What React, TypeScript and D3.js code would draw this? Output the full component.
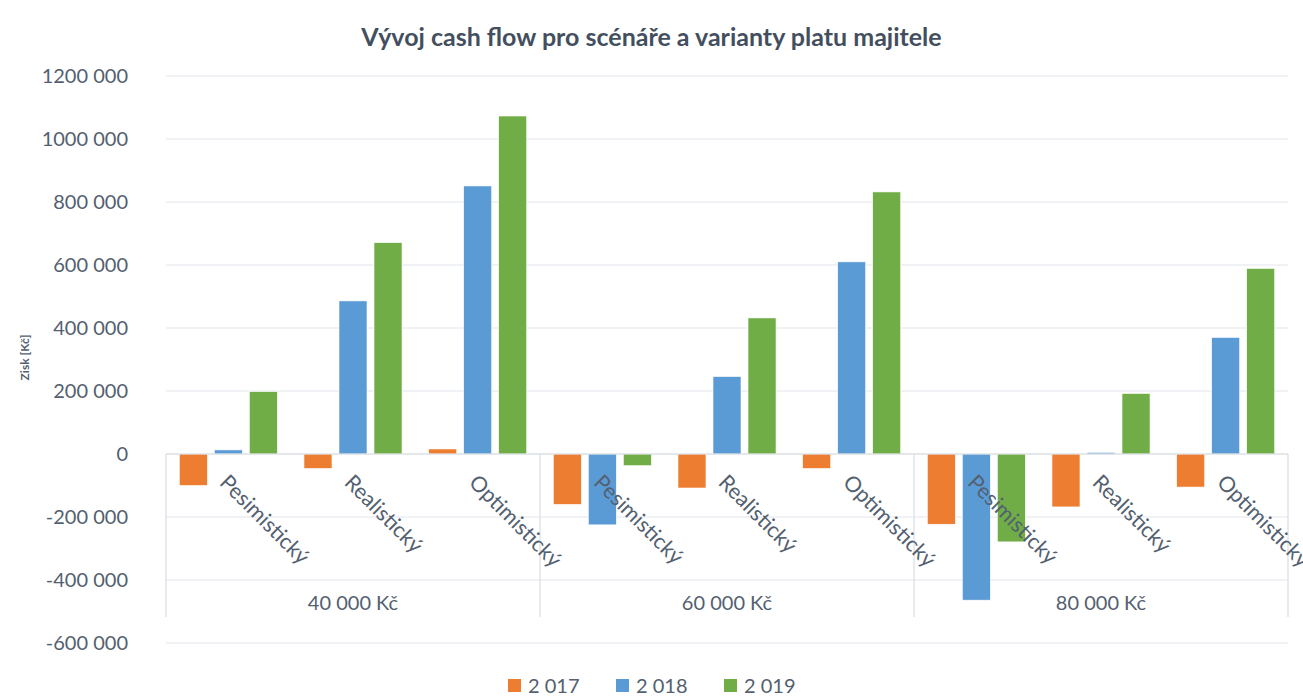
import React, { useEffect, useRef } from "react";
import * as d3 from "d3";

// Data
const salaries = ["40 000 Kč", "60 000 Kč", "80 000 Kč"];
const scenarios = ["Pesimistický", "Realistický", "Optimistický"];
const years = ["2 017", "2 018", "2 019"];

// one value per salary x scenario (9 categories, in order)
const values2017 = [-100000, -46000, 16000, -160000, -108000, -46000, -223000, -168000, -105000];
const values2018 = [13000, 486000, 851000, -225000, 246000, 610000, -464000, 5000, 370000];
const values2019 = [198000, 671000, 1073000, -37000, 432000, 832000, -279000, 192000, 589000];

const yTicks = [1200000, 1000000, 800000, 600000, 400000, 200000, 0, -200000, -400000, -600000];
const yTickLabels = ["1200 000", "1000 000", "800 000", "600 000", "400 000", "200 000", "0", "-200 000", "-400 000", "-600 000"];

const colors = ["#ED7D31", "#5B9BD5", "#70AD47"];
const textColor = "#536070";
const gridColor = "#E2E6EB";
const font = "Lato, 'Open Sans', sans-serif";

const App = () => {
  const svgRef = useRef<SVGSVGElement>(null);

  useEffect(() => {
    const svg = d3.select(svgRef.current);
    svg.selectAll("*").remove();

    const width = 1303;
    const left = 166;
    const right = 1288;
    const top = 76;
    const bottom = 643;

    const series = [values2017, values2018, values2019];
    const categories = d3.range(salaries.length * scenarios.length);

    const x = d3.scaleBand<number>().domain(categories).range([left, right]).padding(0);
    const xInner = d3
      .scaleBand<string>()
      .domain(years)
      .range([0, x.bandwidth()])
      .paddingInner(0.2)
      .paddingOuter(0.38);
    const y = d3.scaleLinear().domain([-600000, 1200000]).range([bottom, top]);

    // Title
    svg
      .append("text")
      .attr("x", width / 2)
      .attr("y", 46)
      .attr("text-anchor", "middle")
      .attr("font-family", font)
      .attr("font-weight", "bold")
      .attr("font-size", 25)
      .attr("fill", "#434F5E")
      .text("Vývoj cash flow pro scénáře a varianty platu majitele");

    // Gridlines
    svg
      .append("g")
      .selectAll("line")
      .data(yTicks)
      .enter()
      .append("line")
      .attr("x1", left)
      .attr("x2", right)
      .attr("y1", (d) => y(d))
      .attr("y2", (d) => y(d))
      .attr("stroke", gridColor)
      .attr("stroke-width", 1.2);

    // Y tick labels
    svg
      .append("g")
      .selectAll("text")
      .data(yTicks)
      .enter()
      .append("text")
      .attr("x", 128)
      .attr("y", (d) => y(d))
      .attr("dy", "0.35em")
      .attr("text-anchor", "end")
      .attr("font-family", font)
      .attr("font-size", 20)
      .attr("fill", textColor)
      .text((d, i) => yTickLabels[i]);

    // Y axis title
    svg
      .append("text")
      .attr("transform", `translate(29,${(top + bottom) / 2 - 2}) rotate(-90)`)
      .attr("text-anchor", "middle")
      .attr("font-family", font)
      .attr("font-weight", "bold")
      .attr("font-size", 12)
      .attr("fill", textColor)
      .text("Zisk [Kč]");

    // Bars
    series.forEach((vals, si) => {
      svg
        .append("g")
        .selectAll("rect")
        .data(vals)
        .enter()
        .append("rect")
        .attr("x", (d, i) => x(i)! + xInner(years[si])!)
        .attr("width", xInner.bandwidth())
        .attr("y", (d) => y(Math.max(0, d)))
        .attr("height", (d) => Math.abs(y(d) - y(0)))
        .attr("fill", colors[si])
        .attr("stroke", "#ffffff")
        .attr("stroke-width", 0.6);
    });

    // Category axis (zero line + group separators)
    const axis = svg.append("g");
    axis
      .append("line")
      .attr("x1", left)
      .attr("x2", right)
      .attr("y1", y(0))
      .attr("y2", y(0))
      .attr("stroke", "#D9DDE2")
      .attr("stroke-width", 1.2);

    const groupEdges = d3.range(salaries.length + 1).map((g) =>
      g < salaries.length ? x(g * scenarios.length)! : right
    );
    axis
      .selectAll(".sep")
      .data(groupEdges)
      .enter()
      .append("line")
      .attr("x1", (d) => d)
      .attr("x2", (d) => d)
      .attr("y1", y(0))
      .attr("y2", 617)
      .attr("stroke", "#D9DDE2")
      .attr("stroke-width", 1.2);

    // Scenario labels, rotated (the last one runs past the edge, as in the source)
    axis
      .selectAll(".cat")
      .data(categories)
      .enter()
      .append("text")
      .attr("transform", (d) => `translate(${x(d)! + x.bandwidth() / 2 + 1},${y(0) + 19}) rotate(45)`)
      .attr("dy", "0.71em")
      .attr("text-anchor", "start")
      .attr("font-family", font)
      .attr("font-size", 21.5)
      .attr("fill", textColor)
      .text((d) => scenarios[d % scenarios.length]);

    // Salary group labels
    axis
      .selectAll(".grp")
      .data(salaries)
      .enter()
      .append("text")
      .attr("x", (d, i) => (groupEdges[i] + groupEdges[i + 1]) / 2)
      .attr("y", 610)
      .attr("text-anchor", "middle")
      .attr("font-family", font)
      .attr("font-size", 20)
      .attr("fill", textColor)
      .text((d) => d);

    // Legend
    const legendX = d3.scaleBand<string>().domain(years).range([508, 832]);
    const legend = svg
      .append("g")
      .selectAll("g")
      .data(years)
      .enter()
      .append("g")
      .attr("transform", (d) => `translate(${legendX(d)},686)`);
    legend
      .append("rect")
      .attr("x", 0)
      .attr("y", -7)
      .attr("width", 13)
      .attr("height", 13)
      .attr("fill", (d, i) => colors[i]);
    legend
      .append("text")
      .attr("x", 20)
      .attr("y", 0)
      .attr("dy", "0.35em")
      .attr("font-family", font)
      .attr("font-size", 20)
      .attr("fill", textColor)
      .text((d) => d);
  }, []);

  return (
    <svg
      ref={svgRef}
      width={1303}
      height={700}
      style={{ position: "absolute", left: 0, top: 0, background: "#ffffff" }}
    ></svg>
  );
};

export default App;
